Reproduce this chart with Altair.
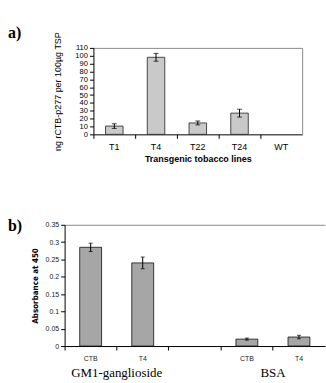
import altair as alt
import pandas as pd

# ---- panel a data ----
lines = ["T1", "T4", "T22", "T24", "WT"]
rctb = [10.5, 98, 14.5, 27, 0]
rctb_err = [3, 5, 2.5, 5, 0]
a_ticks = [0, 10, 20, 30, 40, 50, 60, 70, 80, 90, 100, 110]

# ---- panel b data ----
b_ids = ["GM1|CTB", "GM1|T4", "gap|", "BSA|CTB", "BSA|T4"]
absorb = [0.285, 0.240, None, 0.020, 0.026]
absorb_err = [0.012, 0.017, None, 0.003, 0.005]
b_ticks = [0, 0.05, 0.1, 0.15, 0.2, 0.25, 0.3, 0.35]
groups = ["GM1-ganglioside", "BSA"]
group_anchor = ["GM1|CTB", "BSA|CTB"]

SANS = "Liberation Sans"
SERIF = "Liberation Serif"
BORDER = "#8a8a8a"

dfa = pd.DataFrame({"line": lines, "v": rctb, "e": rctb_err})
dfb = pd.DataFrame({"id": b_ids, "v": absorb, "e": absorb_err})
dfg = pd.DataFrame({"id": group_anchor, "g": groups})

# ---------------- panel a ----------------
# both panels share the same left plot edge; panel a's bars start further right
WA, HA = 239, 87
SHIFT_A = 29
xa_scale = alt.Scale(domain=lines, range=[SHIFT_A, WA], paddingInner=0, paddingOuter=0)
xa_axis = alt.Axis(title="Transgenic tobacco lines", labelAngle=0, bandPosition=0,
                   tickSize=4, labelPadding=4, labelFont=SANS, labelFontSize=9,
                   titleFont=SANS, titleFontSize=9, titleFontWeight="bold",
                   titlePadding=3, domainColor="black", tickColor="black",
                   labelColor="black", titleColor="black")
ya_scale = alt.Scale(domain=[0, 110], nice=False)
ya_axis = alt.Axis(title="ng rCTB-p277 per 100\u00b5g TSP", values=a_ticks, grid=False,
                   offset=-SHIFT_A, labelOverlap=False, tickSize=4, labelPadding=2,
                   labelFont=SANS, labelFontSize=7.6, titleFont=SANS, titleFontSize=9,
                   titleFontWeight="normal", titlePadding=12, domainColor="black",
                   tickColor="black", labelColor="black", titleColor="black")
top_axis = alt.Axis(orient="top", labels=False, ticks=False, title=None,
                    domainColor=BORDER, grid=False)
right_axis = alt.Axis(orient="right", labels=False, ticks=False, title=None,
                      domainColor=BORDER, grid=False)

base_a = alt.Chart(dfa).transform_filter("datum.v > 0").transform_calculate(
    lo="datum.v - datum.e", hi="datum.v + datum.e")
bars_a = base_a.mark_bar(width={"band": 0.42}, fill="#c9c9c9", stroke="#222",
                         strokeWidth=0.8).encode(
    x=alt.X("line:N", scale=xa_scale, axis=xa_axis),
    y=alt.Y("v:Q", scale=ya_scale, axis=ya_axis))
err_a = base_a.mark_rule(color="black", strokeWidth=1).encode(
    x=alt.X("line:N", axis=top_axis),
    y=alt.Y("lo:Q", axis=right_axis), y2="hi:Q")
caplo_a = base_a.mark_tick(color="black", size=5, thickness=1).encode(
    x=alt.X("line:N", axis=None), y=alt.Y("lo:Q", axis=None))
caphi_a = base_a.mark_tick(color="black", size=5, thickness=1).encode(
    x=alt.X("line:N", axis=None), y=alt.Y("hi:Q", axis=None))
lab_a = alt.Chart(pd.DataFrame({"t": ["a)"]})).mark_text(
    align="left", baseline="middle", font=SERIF, fontSize=16, fontWeight="bold",
    color="black").encode(x=alt.value(-57), y=alt.value(-15), text="t:N")

panel_a = alt.layer(bars_a, err_a, caplo_a, caphi_a, lab_a).resolve_axis(
    x="independent", y="independent").properties(width=WA, height=HA)

# ---------------- panel b ----------------
WB, HB = 262, 122
xb_scale = alt.Scale(domain=b_ids, paddingInner=0, paddingOuter=0)
xb_axis = alt.Axis(title=None, labelAngle=0, bandPosition=0,
                   labelExpr="split(datum.label, '|')[1]",
                   tickSize=4, labelPadding=5, labelFont=SANS, labelFontSize=7,
                   domainColor="black", tickColor="black", labelColor="#222")
yb_scale = alt.Scale(domain=[0, 0.35], nice=False)
yb_axis = alt.Axis(title="Absorbance at 450", values=b_ticks, format=".2~f", grid=False,
                   labelOverlap=False, tickSize=4, labelPadding=2, labelFont=SANS,
                   labelFontSize=7, titleFont="DejaVu Sans Condensed", titleFontSize=8,
                   titleFontWeight="bold", titlePadding=6, domainColor="black",
                   tickColor="black", labelColor="#222", titleColor="black")

base_b = alt.Chart(dfb).transform_filter("isValid(datum.v)").transform_calculate(
    lo="datum.v - datum.e", hi="datum.v + datum.e")
bars_b = base_b.mark_bar(width={"band": 0.42}, fill="#a6a6a6", stroke="#111",
                         strokeWidth=0.8).encode(
    x=alt.X("id:N", scale=xb_scale, axis=xb_axis),
    y=alt.Y("v:Q", scale=yb_scale, axis=yb_axis))
err_b = base_b.mark_rule(color="black", strokeWidth=1).encode(
    x=alt.X("id:N", axis=top_axis), y=alt.Y("lo:Q", axis=None), y2="hi:Q")
caplo_b = base_b.mark_tick(color="black", size=4, thickness=1).encode(
    x=alt.X("id:N", axis=None), y=alt.Y("lo:Q", axis=None))
caphi_b = base_b.mark_tick(color="black", size=4, thickness=1).encode(
    x=alt.X("id:N", axis=None), y=alt.Y("hi:Q", axis=None))
grp_b = alt.Chart(dfg).mark_text(font=SERIF, fontSize=13, baseline="middle",
                                 dx=WB / 10, color="black").encode(
    x=alt.X("id:N", axis=None), y=alt.value(HB + 27), text="g:N")
lab_b = alt.Chart(pd.DataFrame({"t": ["b)"]})).mark_text(
    align="left", baseline="middle", font=SERIF, fontSize=16, fontWeight="bold",
    color="black").encode(x=alt.value(-57), y=alt.value(1), text="t:N")

panel_b = alt.layer(bars_b, err_b, caplo_b, caphi_b, grp_b, lab_b).resolve_axis(
    x="independent", y="independent").properties(width=WB, height=HB)

chart = alt.vconcat(panel_a, panel_b, spacing=53).properties(
    padding={"left": 7, "top": 23, "right": 0, "bottom": 0},
    background="white",
).configure_view(stroke="transparent").configure_axis(
    ticks=True, domainWidth=1, tickWidth=1)

chart.save("out.html", embed_options={"renderer": "svg", "actions": False})
